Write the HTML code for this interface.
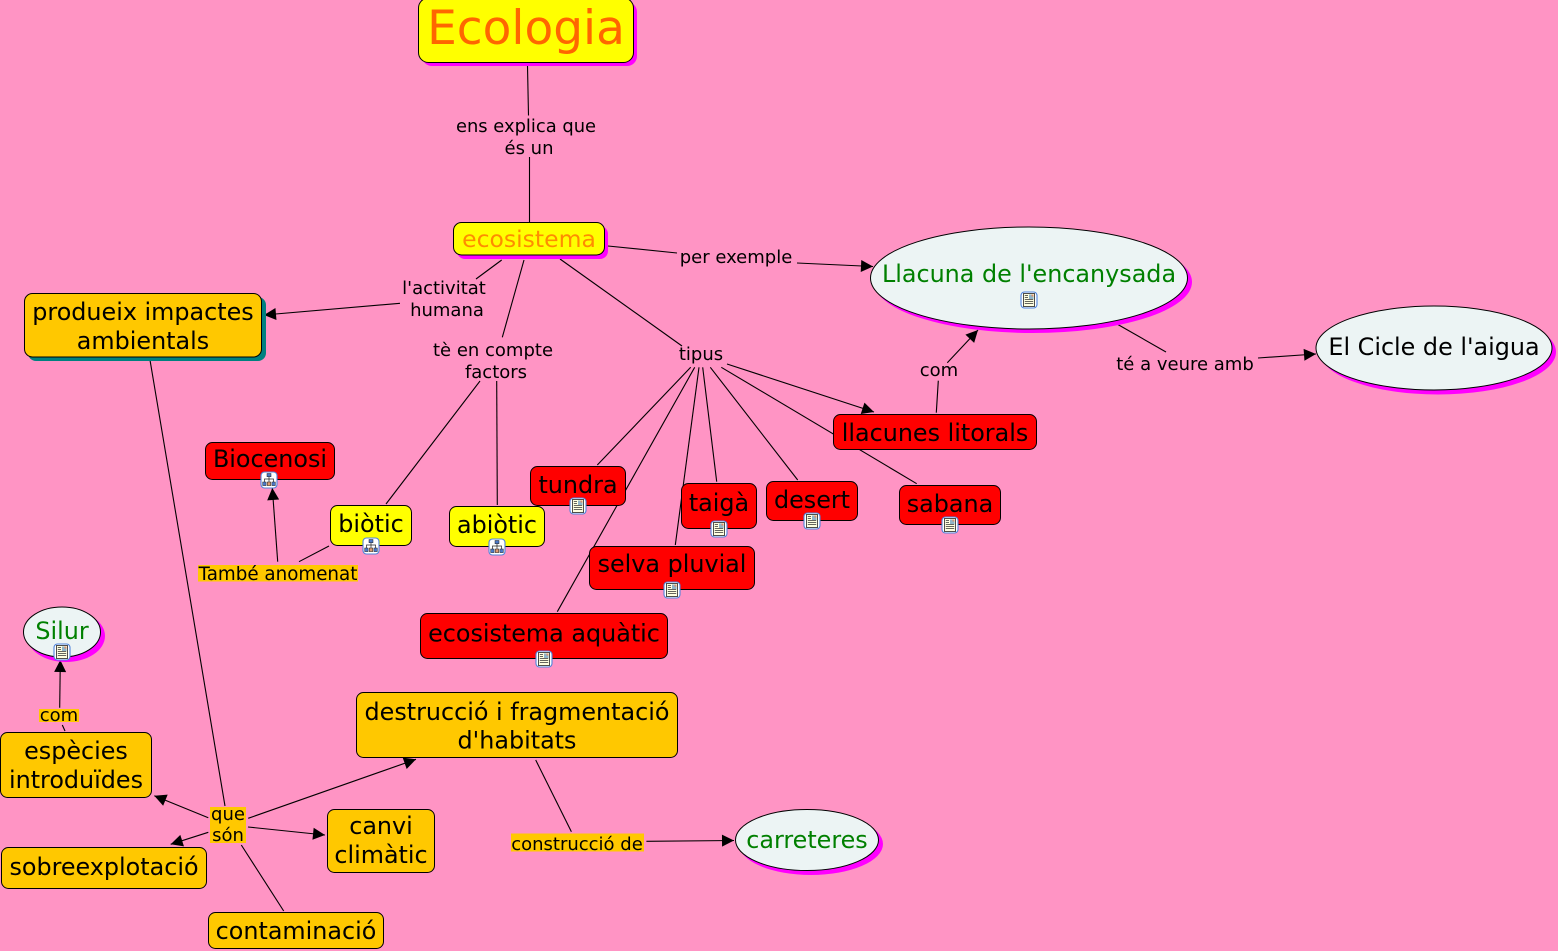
<!DOCTYPE html>
<html><head><meta charset="utf-8"><style>
html,body{margin:0;padding:0;background:#ff94c4;width:1558px;height:951px;overflow:hidden}
svg{display:block}
text{font-family:"DejaVu Sans",sans-serif;text-anchor:middle;fill:#000}
.n{font-size:23.85px}
.l{font-size:18px}
line{stroke:#000;stroke-width:1.1}
.a{marker-end:url(#ah)}
.b{stroke:#000;stroke-width:1}
</style></head><body>
<svg width="1558" height="951" viewBox="0 0 1558 951" xmlns="http://www.w3.org/2000/svg">
<defs>
<marker id="ah" markerUnits="userSpaceOnUse" markerWidth="14" markerHeight="13" refX="12.5" refY="6.5" orient="auto"><path d="M0.5,0.5 L12.5,6.5 L0.5,12.5 Z" fill="#000"/></marker>
<g id="doc"><rect x="-8" y="-8" width="16" height="16" rx="3.5" fill="#fff" stroke="#4f84dc" stroke-width="1.1"/><rect x="-5.5" y="-6.5" width="11" height="13" fill="#ffffe0" stroke="#222" stroke-width=".8"/><rect x="0" y="-5.5" width="4.5" height="4.5" fill="#8fb4c8"/><rect x="2.5" y="-5.5" width="2" height="2" fill="#d89070"/><path d="M-4.2,-4.5H-1M-4.2,-2.5H-1M-4.2,-.5H4.2M-4.2,1.5H4.2M-4.2,3.5H4.2" stroke="#333" stroke-width=".7" fill="none"/></g>
<g id="map"><rect x="-8" y="-8" width="16" height="16" rx="3.5" fill="#fff" stroke="#4f84dc" stroke-width="1.1"/><path d="M0,-4V4M-4.5,2V-1H4.5V2" stroke="#222" fill="none" stroke-width=".7"/><rect x="-2" y="-6.5" width="4" height="3.2" fill="#4a78c8" stroke="#222" stroke-width=".5"/><rect x="-6.3" y="2" width="3.4" height="3.6" fill="#4a78c8" stroke="#222" stroke-width=".5"/><rect x="-1.7" y="2" width="3.4" height="3.6" fill="#e09a70" stroke="#222" stroke-width=".5"/><rect x="2.9" y="2" width="3.4" height="3.6" fill="#4a78c8" stroke="#222" stroke-width=".5"/></g>
</defs>
<rect width="1558" height="951" fill="#ff94c4"/>

<!-- connectors -->
<line x1="527.5" y1="66" x2="528.5" y2="115.5"/>
<line x1="529.5" y1="157" x2="529.5" y2="222"/>
<line x1="501.7" y1="260" x2="476" y2="279"/>
<line x1="400" y1="303.3" x2="264" y2="315" class="a"/>
<line x1="524" y1="260" x2="502.3" y2="337.3"/>
<line x1="560" y1="259" x2="682" y2="346"/>
<line x1="608" y1="246" x2="677" y2="253"/>
<line x1="797" y1="263" x2="873" y2="266.5" class="a"/>
<line x1="1117" y1="324" x2="1166" y2="352"/>
<line x1="1258" y1="358" x2="1316" y2="354" class="a"/>
<line x1="480" y1="381" x2="386" y2="504"/>
<line x1="496.7" y1="381" x2="497.3" y2="505"/>
<line x1="277.7" y1="561.7" x2="272.3" y2="488" class="a"/>
<line x1="329" y1="546" x2="299" y2="561.7"/>
<line x1="690.7" y1="367.3" x2="597.3" y2="465"/>
<line x1="694.7" y1="367.3" x2="557.3" y2="611.7"/>
<line x1="699" y1="367.3" x2="675.3" y2="545"/>
<line x1="702.7" y1="367.3" x2="716.7" y2="481.7"/>
<line x1="710.3" y1="367.3" x2="797.7" y2="480"/>
<line x1="721.3" y1="367.3" x2="916.7" y2="483.7"/>
<line x1="727" y1="364" x2="874" y2="412" class="a"/>
<line x1="938.3" y1="380.7" x2="936.3" y2="412.7"/>
<line x1="947.3" y1="362.7" x2="978" y2="330" class="a"/>
<line x1="150" y1="360" x2="225" y2="806"/>
<line x1="208.3" y1="817.7" x2="154.3" y2="795.7" class="a"/>
<line x1="208.3" y1="832.3" x2="170.7" y2="844.3" class="a"/>
<line x1="241.3" y1="845" x2="283.7" y2="911"/>
<line x1="248.2" y1="818.3" x2="416" y2="759.3" class="a"/>
<line x1="248" y1="827" x2="325" y2="835" class="a"/>
<line x1="535.7" y1="760" x2="571.4" y2="831.7"/>
<line x1="646.4" y1="841.3" x2="734" y2="840.5" class="a"/>
<line x1="59.7" y1="707.7" x2="60.3" y2="660" class="a"/>
<line x1="65" y1="731" x2="62.3" y2="725"/>

<!-- nodes -->
<rect x="422" y="2" width="215" height="64" rx="10" fill="#ff00ff"/>
<rect x="418.5" y="-2" width="215" height="64.5" rx="10" fill="#ffff00" class="b"/>
<text x="526" y="44" font-size="47" style="fill:#ff6600">Ecologia</text>

<rect x="457" y="226" width="151" height="33" rx="8" fill="#ff00ff"/>
<rect x="453.5" y="222.5" width="151" height="32.5" rx="8" fill="#ffff00" class="b"/>
<text x="529" y="247" font-size="23.5" style="fill:#ff8c00">ecosistema</text>

<rect x="28" y="297" width="238" height="64" rx="8" fill="#008080"/>
<rect x="24.5" y="293.5" width="237" height="63.5" rx="8" fill="#ffc800" class="b"/>
<text x="143" y="320" class="n">produeix impactes</text>
<text x="143" y="349" class="n">ambientals</text>

<ellipse cx="1033" cy="282" rx="159" ry="51" fill="#ff00ff"/>
<ellipse cx="1029" cy="278" rx="158.5" ry="51" fill="#ecf4f4" class="b"/>
<text x="1029" y="282" class="n" style="fill:#008000">Llacuna de l'encanysada</text>

<ellipse cx="1438" cy="352" rx="118" ry="42.5" fill="#ff00ff"/>
<ellipse cx="1434" cy="348" rx="118" ry="42" fill="#ecf4f4" class="b"/>
<text x="1434" y="355" class="n">El Cicle de l'aigua</text>

<rect x="205.5" y="442.5" width="129" height="37" rx="7" fill="#ff0000" class="b"/>
<text x="270" y="467" class="n">Biocenosi</text>
<rect x="330.5" y="505.5" width="81" height="40" rx="7" fill="#ffff00" class="b"/>
<text x="371" y="532" class="n">biòtic</text>
<rect x="449.5" y="506.5" width="95" height="40" rx="7" fill="#ffff00" class="b"/>
<text x="497" y="533" class="n">abiòtic</text>
<rect x="530.5" y="466.5" width="95" height="39" rx="7" fill="#ff0000" class="b"/>
<text x="578" y="493" class="n">tundra</text>
<rect x="681.5" y="483.5" width="75" height="45" rx="7" fill="#ff0000" class="b"/>
<text x="719" y="511" class="n">taigà</text>
<rect x="766.5" y="481.5" width="91" height="39" rx="7" fill="#ff0000" class="b"/>
<text x="812" y="508" class="n">desert</text>
<rect x="899.5" y="485.5" width="101" height="39" rx="7" fill="#ff0000" class="b"/>
<text x="950" y="512" class="n">sabana</text>
<rect x="589.5" y="546.5" width="165" height="43" rx="7" fill="#ff0000" class="b"/>
<text x="672" y="572" class="n">selva pluvial</text>
<rect x="420.5" y="613.5" width="247" height="45" rx="7" fill="#ff0000" class="b"/>
<text x="544" y="641.5" class="n">ecosistema aquàtic</text>
<rect x="833.5" y="414.5" width="203" height="35" rx="7" fill="#ff0000" class="b"/>
<text x="935" y="441" class="n">llacunes litorals</text>

<ellipse cx="66" cy="636" rx="39" ry="26" fill="#ff00ff"/>
<ellipse cx="62" cy="632" rx="38.5" ry="25" fill="#ecf4f4" class="b"/>
<text x="62" y="639" class="n" style="fill:#008000">Silur</text>

<rect x="0.5" y="732.5" width="151" height="65" rx="7" fill="#ffc800" class="b"/>
<text x="76" y="759" class="n">espècies</text>
<text x="76" y="788" class="n">introduïdes</text>
<rect x="1.5" y="847.5" width="205" height="41" rx="7" fill="#ffc800" class="b"/>
<text x="104" y="875" class="n">sobreexplotació</text>
<rect x="327.5" y="809.5" width="107" height="63" rx="7" fill="#ffc800" class="b"/>
<text x="381" y="834" class="n">canvi</text>
<text x="381" y="863" class="n">climàtic</text>
<rect x="208.5" y="912.5" width="175" height="36" rx="7" fill="#ffc800" class="b"/>
<text x="296" y="939" class="n">contaminació</text>
<rect x="356.5" y="692.5" width="321" height="65" rx="7" fill="#ffc800" class="b"/>
<text x="517" y="720" class="n">destrucció i fragmentació</text>
<text x="517" y="748.5" class="n">d'habitats</text>

<ellipse cx="811" cy="844" rx="72" ry="31" fill="#ff00ff"/>
<ellipse cx="807" cy="840" rx="71.5" ry="30.5" fill="#ecf4f4" class="b"/>
<text x="807" y="848" class="n" style="fill:#008000">carreteres</text>

<!-- linking labels -->
<text x="526" y="132" font-size="17.9">ens explica que</text>
<text x="529" y="154" class="l">és un</text>
<text x="444" y="294" class="l">l'activitat</text>
<text x="447" y="316" class="l">humana</text>
<text x="493" y="356" class="l">tè en compte</text>
<text x="496" y="378" class="l">factors</text>
<text x="736" y="263" class="l">per exemple</text>
<text x="701" y="360" class="l">tipus</text>
<text x="939" y="376" class="l">com</text>
<text x="1185" y="370" class="l">té a veure amb</text>

<rect x="198" y="565" width="160" height="16.5" fill="#ffc800"/>
<text x="278" y="580" font-size="18.3">També anomenat</text>
<rect x="39" y="709" width="40" height="13" fill="#ffc800"/>
<text x="59" y="721" class="l">com</text>
<rect x="210" y="807" width="36" height="36" fill="#ffc800"/>
<text x="228" y="820" class="l">que</text>
<text x="228" y="841" class="l">són</text>
<rect x="511" y="833.5" width="133" height="18" fill="#ffc800"/>
<text x="577" y="850" class="l">construcció de</text>

<!-- icons -->
<use href="#map" x="269" y="480"/>
<use href="#map" x="371" y="546"/>
<use href="#map" x="497" y="547"/>
<use href="#doc" x="578" y="506"/>
<use href="#doc" x="719" y="529"/>
<use href="#doc" x="812" y="521"/>
<use href="#doc" x="950" y="525"/>
<use href="#doc" x="672" y="590"/>
<use href="#doc" x="544" y="659"/>
<use href="#doc" x="1029" y="300"/>
<use href="#doc" x="62" y="652"/>
</svg>
</body></html>
